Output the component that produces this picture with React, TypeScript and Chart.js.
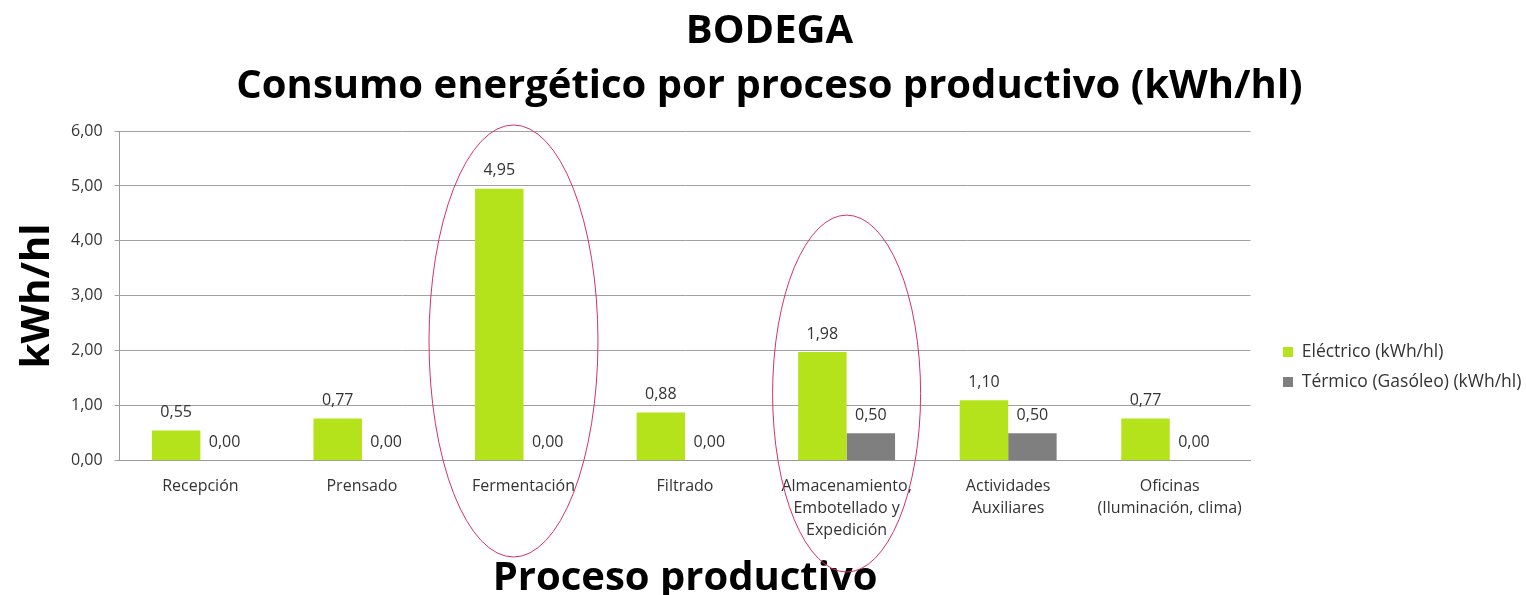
import React, { useEffect, useRef } from "react";
import { Chart, registerables } from "chart.js";

Chart.register(...registerables);

const categories: (string | string[])[] = [
  "Recepción",
  "Prensado",
  "Fermentación",
  "Filtrado",
  ["Almacenamiento,", "Embotellado y", "Expedición"],
  ["Actividades", "Auxiliares"],
  ["Oficinas", "(Iluminación, clima)"],
];
const electrico = [0.55, 0.77, 4.95, 0.88, 1.98, 1.1, 0.77];
const termico = [0.0, 0.0, 0.0, 0.0, 0.5, 0.5, 0.0];
const seriesNames = ["Eléctrico (kWh/hl)", "Térmico (Gasóleo) (kWh/hl)"];
const titleLines = ["BODEGA", "Consumo energético por proceso productivo (kWh/hl)"];
const yTitle = "kWh/hl";
const xTitle = "Proceso productivo";
const highlighted = [2, 4];

const fmt = (v: number) => v.toFixed(2).replace(".", ",");

const FONT = "'Open Sans', Lato, sans-serif";

const labelPlugin = {
  id: "valueLabels",
  afterDatasetsDraw(chart: any) {
    const ctx = chart.ctx;
    ctx.save();
    ctx.font = `16px ${FONT}`;
    ctx.fillStyle = "#333";
    ctx.textAlign = "center";
    ctx.textBaseline = "bottom";
    chart.data.datasets.forEach((ds: any, i: number) => {
      const meta = chart.getDatasetMeta(i);
      meta.data.forEach((bar: any, j: number) => {
        ctx.fillText(fmt(ds.data[j]), bar.x, bar.y - 10);
      });
    });
    ctx.restore();
  },
};

const ellipsePlugin = {
  id: "ellipses",
  afterDraw(chart: any) {
    const ctx = chart.ctx;
    const x = chart.scales.x;
    const y = chart.scales.y;
    const catW = (x.right - x.left) / categories.length;
    ctx.save();
    ctx.strokeStyle = "#d2306e";
    ctx.lineWidth = 1;
    highlighted.forEach((idx, k) => {
      const cx = x.getPixelForValue(idx) - (k === 0 ? 10 : 0);
      const rx = catW * (k === 0 ? 0.523 : 0.458);
      const top = y.getPixelForValue(k === 0 ? 6.11 : 4.47);
      const bottom = k === 0 ? 557 : 572;
      const cy = (top + bottom) / 2;
      const ry = (bottom - top) / 2;
      ctx.beginPath();
      ctx.ellipse(cx, cy, rx, ry, 0, 0, Math.PI * 2);
      ctx.stroke();
    });
    ctx.restore();
  },
};

export default function App() {
  const ref = useRef<HTMLCanvasElement | null>(null);
  useEffect(() => {
    document.body.style.margin = "0";
    if (!ref.current) return;
    const chart = new Chart(ref.current, {
      type: "bar",
      data: {
        labels: categories,
        datasets: [
          {
            label: seriesNames[0],
            data: electrico,
            backgroundColor: "#b4e31c",
            categoryPercentage: 0.6,
            barPercentage: 1.0,
          },
          {
            label: seriesNames[1],
            data: termico,
            backgroundColor: "#7f7f7f",
            categoryPercentage: 0.6,
            barPercentage: 1.0,
          },
        ],
      },
      options: {
        animation: false,
        responsive: false,
        maintainAspectRatio: false,
        layout: { padding: { left: 18, right: 5, top: 0, bottom: 0 } },
        plugins: {
          title: {
            display: true,
            text: titleLines,
            color: "#000",
            font: { family: FONT, size: 40, weight: "bold", lineHeight: 1.375 },
            padding: { top: 4, bottom: 17 },
          },
          legend: {
            position: "right",
            title: {
              display: true,
              text: "",
              font: { size: 1, lineHeight: 1 },
              padding: { top: 138, bottom: 0 },
            },
            labels: {
              boxWidth: 10,
              boxHeight: 10,
              color: "#333",
              font: { family: FONT, size: 17.5 },
              padding: 12.5,
            },
          },
          tooltip: { enabled: false },
        },
        scales: {
          x: {
            grid: { display: false },
            border: { color: "#999" },
            ticks: {
              color: "#333",
              font: { family: FONT, size: 16, lineHeight: 1.4 },
              maxRotation: 0,
              autoSkip: false,
              padding: 6,
            },
            title: {
              display: true,
              text: xTitle,
              color: "#000",
              font: { family: FONT, size: 40, weight: "bold", lineHeight: 0.8 },
              padding: { top: 15, bottom: 0 },
            },
          },
          y: {
            min: 0,
            max: 6,
            grid: { color: "#a0a0a0", tickLength: 5 },
            border: { color: "#999" },
            ticks: {
              stepSize: 1,
              color: "#333",
              font: { family: FONT, size: 16 },
              callback: (v: any) => fmt(Number(v)),
              padding: 12,
            },
            title: {
              display: true,
              text: yTitle,
              color: "#000",
              font: { family: FONT, size: 40, weight: "bold", lineHeight: 1.0 },
              padding: { top: 0, bottom: 1 },
            },
          },
          yR: {
            position: "right",
            display: true,
            grid: { display: false, drawTicks: false },
            border: { display: false },
            ticks: { display: false },
            afterFit: (s: any) => {
              s.width = 20;
            },
          },
        },
      },
      plugins: [labelPlugin, ellipsePlugin],
    });
    return () => chart.destroy();
  }, []);
  return (
    <div style={{ width: 1526, height: 595, background: "#fff" }}>
      <canvas ref={ref} width={1526} height={595} />
    </div>
  );
}
